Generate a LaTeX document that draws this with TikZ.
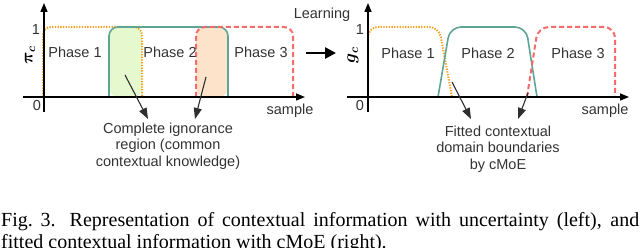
\documentclass[tikz,border=0pt]{standalone}
\usepackage{amsmath}
\usepackage{fontspec}
\setmainfont{Liberation Serif}
\setsansfont{Liberation Sans}
\usetikzlibrary{arrows.meta}
\definecolor{tealc}{HTML}{5FA596}
\definecolor{orangec}{HTML}{F7A020}
\definecolor{redc}{HTML}{F76A6A}
\definecolor{greenf}{HTML}{E6F9CE}
\definecolor{peachf}{HTML}{FDE3CA}
\definecolor{txt}{HTML}{333333}
\tikzset{
  lbl/.style={font=\sffamily\fontsize{14.5}{17}\selectfont, text=txt, inner sep=0pt},
  note/.style={font=\sffamily\fontsize{14.5}{16.5}\selectfont, text=txt, align=center, inner sep=0pt},
  axisline/.style={line width=1.4pt, -{Triangle[length=9pt,width=7pt]}},
  tealline/.style={draw=tealc, line width=1.6pt, rounded corners=9pt},
  orangeline/.style={draw=orangec, line width=2pt, dash pattern=on 1.3pt off 1.4pt, rounded corners=8pt},
  redline/.style={draw=redc, line width=2pt, dash pattern=on 5pt off 3pt, rounded corners=9pt},
  pointer/.style={draw=txt!90!black, line width=1.1pt, -{Triangle[length=11pt,width=8pt]}},
  caption/.style={font=\rmfamily\fontsize{20}{22}\selectfont, anchor=north west, inner sep=0pt, text width=638pt, align=justify}
}
\begin{document}
\begin{tikzpicture}[x=1pt,y=-1pt]
\useasboundingbox (0,0) rectangle (640,248);
\clip (0,0) rectangle (640,248);
% ---------- left plot ----------
\fill[greenf, rounded corners=9pt] (109,97) -- (109,27) -- (142,27) -- (142,97) -- cycle;
\fill[peachf, rounded corners=9pt] (196,97) -- (196,27) -- (228,27) -- (228,97) -- cycle;
\draw[orangeline] (43,97) -- (43,27) -- (142,27) -- (142,97);
\draw[tealline] (109,97) -- (109,27) -- (228,27) -- (228,97);
\draw[redline] (196,97) -- (196,27) -- (293,27) -- (293,97);
\coordinate (lxs) at (23,97); \coordinate (lxe) at (305,97);
\coordinate (lys) at (44,112); \coordinate (lye) at (44,3);
\draw[axisline] (lxs) -- (lxe);
\draw[axisline] (lys) -- (lye);
\node[lbl] (l1) at (36,30) {1};
\node[lbl] (l0) at (37,106) {0};
\node[font=\fontsize{17}{17}\selectfont, rotate=90, inner sep=0pt] (lpi) at (30,55) {$\boldsymbol{\pi_c}$};
\node[lbl] (lp1) at (75,52) {Phase 1};
\node[lbl] (lp2) at (170,52) {Phase 2};
\node[lbl] (lp3) at (261,52) {Phase 3};
\node[lbl] (ls) at (290,111) {sample};
\node[note] (ign) at (168,146) {Complete ignorance\\region (common\\contextual knowledge)};
\coordinate (a1s) at (125,75); \coordinate (a1e) at (148,119);
\coordinate (a2s) at (206,77); \coordinate (a2e) at (195,119);
\draw[pointer] (a1s) -- (a1e);
\draw[pointer] (a2s) -- (a2e);
% ---------- middle ----------
\node[lbl] (learn) at (322,15) {Learning};
\coordinate (bs) at (306,53); \coordinate (be) at (336,53);
\draw[line width=2.6pt, -{Triangle[length=11pt,width=11pt]}] (bs) -- (be);
% ---------- right plot ----------
\draw[orangeline, rounded corners=10pt] (368,97) -- (368,27) -- (439,27) -- (452,97);
\draw[tealline, rounded corners=11pt] (438,97) -- (450,27) -- (526,27) -- (537,97);
\draw[redline, rounded corners=11pt] (527,97) -- (538,27) -- (615,27) -- (615,97);
\coordinate (rxs) at (347,97); \coordinate (rxe) at (629,97);
\coordinate (rys) at (368,112); \coordinate (rye) at (368,3);
\draw[axisline] (rxs) -- (rxe);
\draw[axisline] (rys) -- (rye);
\node[lbl] (r1) at (360,30) {1};
\node[lbl] (r0) at (360,106) {0};
\node[font=\fontsize{17}{17}\selectfont, rotate=90, inner sep=0pt] (rg) at (353,55) {$\boldsymbol{g_c}$};
\node[lbl] (rp1) at (408,53) {Phase 1};
\node[lbl] (rp2) at (488,53) {Phase 2};
\node[lbl] (rp3) at (578,53) {Phase 3};
\node[lbl] (rs) at (605,111) {sample};
\node[note] (fit) at (498,149) {Fitted contextual\\domain boundaries\\by cMoE};
\coordinate (b1s) at (452,82); \coordinate (b1e) at (471,119);
\coordinate (b2s) at (528,93); \coordinate (b2e) at (518,119);
\draw[pointer] (b1s) -- (b1e);
\draw[pointer] (b2s) -- (b2e);
% ---------- caption ----------
\node[caption] (cap) at (1,212) {Fig.~3.\hspace{0.7em}Representation of contextual information with uncertainty (left), and\linebreak fitted contextual information with cMoE (right).};
\end{tikzpicture}
\end{document}
